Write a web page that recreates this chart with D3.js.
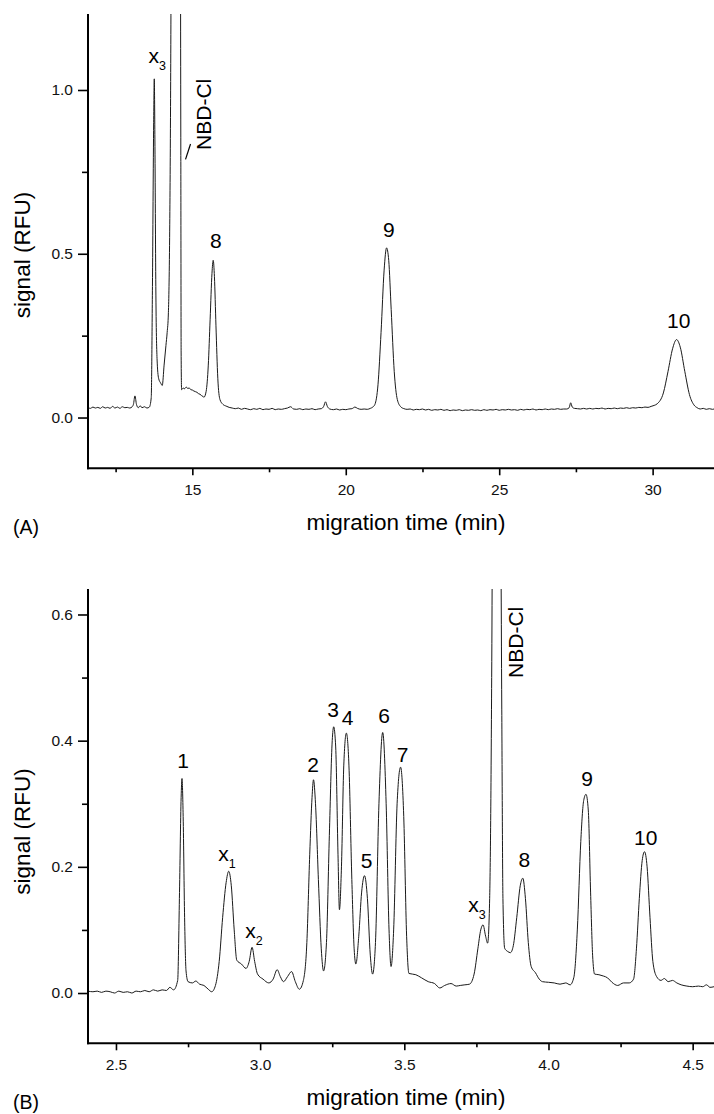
<!DOCTYPE html>
<html>
<head>
<meta charset="utf-8">
<script src="https://cdn.jsdelivr.net/npm/d3@7"></script>
<style>
  body { margin: 0; background: #fff; }
  svg { display: block; font-family: "Liberation Sans", Arial, Helvetica, sans-serif; }
</style>
</head>
<body>
<div id="chart"></div>
<script>
// ---- panel A : electropherogram, long run (min) ----
const timeA = [11.6, 11.68, 11.76, 11.84, 11.92, 12.0, 12.08, 12.16, 12.24, 12.32, 12.4, 12.48, 12.56, 12.64, 12.72, 12.8, 12.88, 12.96, 13.04, 13.08,
  13.13, 13.18, 13.24, 13.3, 13.36, 13.44, 13.52, 13.6, 13.66, 13.7, 13.74, 13.76, 13.78, 13.81, 13.85, 13.9, 13.97, 14.02, 14.08, 14.14,
  14.18, 14.22, 14.26, 14.29, 14.31, 14.4, 14.48, 14.56, 14.61, 14.625, 14.635, 14.65, 14.7, 14.75, 14.8, 14.85, 14.9, 14.95, 15.0, 15.05,
  15.1, 15.15, 15.2, 15.25, 15.3, 15.35, 15.38, 15.45, 15.52, 15.58, 15.64, 15.68, 15.72, 15.77, 15.83, 15.9,
  16.0, 16.1, 16.2, 16.3, 16.4, 16.5, 16.6, 16.7, 16.8, 16.9, 17.0, 17.1, 17.2, 17.3, 17.4, 17.5, 17.6, 17.7, 17.8, 17.9,
  18.0, 18.1, 18.2, 18.3, 18.4, 18.5, 18.6, 18.7, 18.8, 18.9, 19.0, 19.1, 19.2, 19.28, 19.34, 19.4, 19.48, 19.6, 19.7, 19.8,
  19.9, 20.0, 20.1, 20.2, 20.3, 20.38, 20.5, 20.6, 20.7, 20.8, 20.88, 20.95, 21.05, 21.15, 21.25, 21.33, 21.4, 21.48, 21.58, 21.68,
  21.8, 21.9, 22.0, 22.1, 22.2, 22.3, 22.4, 22.5, 22.6, 22.7, 22.8, 22.9, 23.0, 23.1, 23.2, 23.3, 23.4, 23.5, 23.6, 23.7,
  23.8, 23.9, 24.0, 24.1, 24.2, 24.3, 24.4, 24.5, 24.6, 24.7, 24.8, 24.9, 25.0, 25.1, 25.2, 25.3, 25.4, 25.5, 25.6, 25.7,
  25.8, 25.9, 26.0, 26.1, 26.2, 26.3, 26.4, 26.5, 26.6, 26.7, 26.8, 26.9, 27.0, 27.1, 27.2, 27.28, 27.33, 27.38, 27.45, 27.55,
  27.65, 27.75, 27.85, 27.95, 28.05, 28.15, 28.25, 28.35, 28.45, 28.55, 28.65, 28.75, 28.85, 28.95, 29.05, 29.15, 29.25, 29.35, 29.45, 29.55,
  29.65, 29.75, 29.85, 29.95, 30.05, 30.15, 30.35, 30.5, 30.65, 30.78, 30.9, 31.05, 31.2, 31.35, 31.45, 31.55, 31.65, 31.75, 31.85, 31.95,
  32.0]
const signalA = [0.030, 0.028, 0.032, 0.029, 0.031, 0.028, 0.033, 0.029, 0.031, 0.028, 0.034, 0.029, 0.032, 0.028, 0.033, 0.030, 0.031, 0.029, 0.033, 0.040,
  0.066, 0.040, 0.030, 0.036, 0.030, 0.033, 0.029, 0.032, 0.060, 0.40, 0.90, 1.034, 0.85, 0.40, 0.18, 0.12, 0.105, 0.098, 0.16, 0.22,
  0.26, 0.32, 0.55, 0.95, 1.4, 2.8, 3.2, 2.6, 1.6, 0.8, 0.20, 0.085, 0.090, 0.088, 0.093, 0.089, 0.090, 0.085, 0.084, 0.081,
  0.079, 0.077, 0.073, 0.071, 0.067, 0.064, 0.062, 0.080, 0.16, 0.30, 0.44, 0.48, 0.43, 0.28, 0.12, 0.055,
  0.040, 0.035, 0.031, 0.029, 0.027, 0.029, 0.025, 0.028, 0.026, 0.024, 0.027, 0.025, 0.028, 0.024, 0.026, 0.025, 0.028, 0.024, 0.026, 0.025,
  0.027, 0.029, 0.033, 0.026, 0.025, 0.027, 0.024, 0.026, 0.025, 0.027, 0.024, 0.026, 0.027, 0.034, 0.048, 0.034, 0.026, 0.024, 0.026, 0.023,
  0.025, 0.024, 0.026, 0.027, 0.032, 0.028, 0.025, 0.026, 0.025, 0.028, 0.032, 0.040, 0.10, 0.26, 0.45, 0.518, 0.48, 0.33, 0.14, 0.055,
  0.032, 0.027, 0.025, 0.026, 0.023, 0.025, 0.024, 0.026, 0.023, 0.025, 0.022, 0.024, 0.023, 0.025, 0.022, 0.024, 0.021, 0.023, 0.022, 0.024,
  0.021, 0.023, 0.022, 0.024, 0.022, 0.023, 0.021, 0.024, 0.022, 0.024, 0.023, 0.025, 0.022, 0.024, 0.023, 0.025, 0.023, 0.024, 0.022, 0.025,
  0.023, 0.025, 0.024, 0.026, 0.023, 0.025, 0.024, 0.026, 0.024, 0.026, 0.025, 0.027, 0.025, 0.026, 0.026, 0.030, 0.045, 0.032, 0.028, 0.027,
  0.026, 0.028, 0.026, 0.028, 0.026, 0.028, 0.027, 0.029, 0.026, 0.028, 0.027, 0.029, 0.027, 0.029, 0.028, 0.030, 0.028, 0.030, 0.029, 0.031,
  0.030, 0.032, 0.031, 0.034, 0.037, 0.042, 0.075, 0.14, 0.21, 0.238, 0.215, 0.14, 0.070, 0.038, 0.030, 0.026, 0.028, 0.025, 0.027, 0.025,
  0.026]

const peakLabelsA = ["x", "8", "9", "10"]
const peakSubsA = ["3", "", "", ""]
const peakLabelTimeA = [13.86, 15.765, 21.40, 30.85]
const peakLabelSignalA = [1.082, 0.518, 0.551, 0.273]
const nbdLabelA = [15.60, 0.817]
const nbdLeaderA = [[14.778, 0.788], [14.941, 0.835]]

const xTicksA = [15, 20, 25, 30]
const xMinorA = [12.5, 17.5, 22.5, 27.5]
const yTicksA = [0.0, 0.5, 1.0]
const yMinorA = [0.25, 0.75]

// ---- panel B : fast separation ----
const timeB = [2.403, 2.42, 2.435, 2.45, 2.465, 2.48, 2.495, 2.51, 2.525, 2.54, 2.555, 2.57, 2.585, 2.6, 2.615, 2.63, 2.645, 2.66, 2.675, 2.687,
  2.7, 2.714, 2.72, 2.726, 2.729, 2.733, 2.738, 2.743, 2.75,
  2.765, 2.777, 2.79, 2.805, 2.82, 2.832, 2.845, 2.858, 2.87, 2.882, 2.891, 2.9, 2.91, 2.919, 2.935, 2.951, 2.962, 2.972, 2.981, 2.991,
  3.01, 3.03, 3.045, 3.059, 3.07, 3.081, 3.095, 3.109, 3.122, 3.136, 3.15, 3.162, 3.172, 3.18, 3.185, 3.192, 3.202, 3.212, 3.22, 3.23,
  3.24, 3.25, 3.255, 3.262, 3.27, 3.275, 3.282, 3.29, 3.299, 3.308, 3.318, 3.326, 3.332, 3.342, 3.352, 3.362, 3.372, 3.382, 3.39, 3.4,
  3.412, 3.425, 3.437, 3.447, 3.454, 3.463, 3.475, 3.487, 3.498, 3.508, 3.516, 3.54, 3.56, 3.583, 3.605, 3.623, 3.64, 3.662, 3.68, 3.694,
  3.71, 3.726, 3.742, 3.755, 3.765, 3.773, 3.782, 3.789, 3.796, 3.803, 3.808, 3.82, 3.832, 3.838, 3.842, 3.848, 3.858, 3.868, 3.878, 3.89,
  3.902, 3.911, 3.92, 3.93, 3.94, 3.955, 3.968, 3.979, 4.0, 4.02, 4.04, 4.06, 4.075, 4.088, 4.1, 4.112, 4.122, 4.13, 4.138, 4.146,
  4.153, 4.16, 4.175, 4.19, 4.205, 4.22, 4.24, 4.26, 4.28, 4.295, 4.305, 4.315, 4.325, 4.333, 4.342, 4.352, 4.362, 4.375, 4.39, 4.402,
  4.415, 4.43, 4.445, 4.46, 4.48, 4.5, 4.52, 4.535, 4.548, 4.56, 4.574]
const signalB = [0.003, 0.002, 0.003, 0.001, 0.003, 0.002, 0.000, 0.003, 0.001, 0.002, 0.000, 0.003, 0.002, 0.004, 0.002, 0.005, 0.003, 0.005, 0.004, 0.009,
  0.005, 0.02, 0.15, 0.31, 0.340, 0.28, 0.12, 0.035, 0.018,
  0.016, 0.019, 0.014, 0.012, 0.006, 0.002, 0.012, 0.05, 0.12, 0.175, 0.193, 0.17, 0.10, 0.052, 0.046, 0.039, 0.050, 0.0725, 0.050, 0.030,
  0.022, 0.016, 0.022, 0.037, 0.026, 0.018, 0.026, 0.034, 0.018, 0.006, 0.020, 0.08, 0.22, 0.31, 0.338, 0.30, 0.18, 0.07, 0.035, 0.08,
  0.25, 0.40, 0.422, 0.39, 0.22, 0.132, 0.20, 0.36, 0.412, 0.36, 0.18, 0.07, 0.046, 0.09, 0.16, 0.186, 0.15, 0.06, 0.030, 0.08,
  0.30, 0.413, 0.30, 0.10, 0.042, 0.10, 0.30, 0.358, 0.28, 0.09, 0.031, 0.029, 0.024, 0.018, 0.015, 0.008, 0.012, 0.015, 0.011, 0.012,
  0.013, 0.014, 0.030, 0.070, 0.100, 0.108, 0.090, 0.079, 0.15, 0.50, 1.0, 1.5, 1.0, 0.45, 0.15, 0.071, 0.066, 0.064, 0.075, 0.12,
  0.170, 0.182, 0.15, 0.08, 0.042, 0.032, 0.022, 0.018, 0.017, 0.016, 0.014, 0.016, 0.013, 0.025, 0.10, 0.24, 0.305, 0.315, 0.29, 0.16,
  0.060, 0.030, 0.029, 0.027, 0.024, 0.017, 0.012, 0.016, 0.016, 0.022, 0.07, 0.15, 0.210, 0.224, 0.20, 0.12, 0.05, 0.026, 0.020, 0.023,
  0.018, 0.020, 0.016, 0.013, 0.011, 0.010, 0.011, 0.010, 0.013, 0.009, 0.010]

const peakLabelsB = ["1", "x", "x", "2", "3", "4", "5", "6", "7", "x", "8", "9", "10"]
const peakSubsB = ["", "1", "2", "", "", "", "", "", "", "3", "", "", ""]
const peakLabelTimeB = [2.7324, 2.885, 2.9787, 3.1833, 3.2527, 3.3037, 3.3696, 3.4296, 3.4944, 3.7522, 3.9162, 4.1337, 4.3373]
const peakLabelSignalB = [0.3567, 0.2097, 0.0867, 0.3503, 0.4375, 0.4249, 0.1982, 0.428, 0.3667, 0.1289, 0.2002, 0.3286, 0.2346]
const nbdLabelB = [3.9117, 0.4994]

const xTicksB = [2.5, 3.0, 3.5, 4.0, 4.5]
const xMinorB = [2.75, 3.25, 3.75, 4.25]
const yTicksB = [0.0, 0.2, 0.4, 0.6]
const yMinorB = [0.1, 0.3, 0.5]

const svg = d3.select("#chart")
  .append("svg")
    .attr("width", 714)
    .attr("height", 1114)

function drawPanel(p) {
  const width = p.right - p.left,
      height = p.bottom - p.top

  const g = svg.append("g")
    .attr("transform", `translate(${p.left},${p.top})`)

  const x = d3.scaleLinear().domain(p.xDomain).range([0, width])
  const y = d3.scaleLinear().domain(p.yDomain).range([height, 0])

  // clip the trace so the off-scale NBD-Cl peak is cut at the frame
  g.append("clipPath")
    .attr("id", p.id + "-clip")
    .append("rect")
      .attr("width", width)
      .attr("height", height)

  const points = p.times.map((t, i) => [t, p.signal[i]])
  g.append("path")
    .datum(points)
    .attr("clip-path", `url(#${p.id}-clip)`)
    .attr("fill", "none")
    .attr("stroke", "#1a1a1a")
    .attr("stroke-width", 1)
    .attr("stroke-linejoin", "round")
    .attr("d", d3.line()
      .x(d => x(d[0]))
      .y(d => y(d[1]))
      .curve(d3.curveMonotoneX)
    )

  // minor ticks first, then main axes on top
  g.append("g")
    .attr("transform", `translate(0,${height})`)
    .call(d3.axisBottom(x).tickValues(p.xMinor).tickSize(4).tickFormat(""))
  g.append("g")
    .call(d3.axisLeft(y).tickValues(p.yMinor).tickSize(6).tickFormat(""))

  g.append("g")
    .attr("transform", `translate(0,${height})`)
    .call(d3.axisBottom(x).tickValues(p.xTicks).tickSize(7).tickPadding(9).tickFormat(p.xFormat))
  g.append("g")
    .call(d3.axisLeft(y).tickValues(p.yTicks).tickSize(10).tickPadding(5).tickFormat(d3.format(".1f")))

  g.selectAll(".domain").remove()
  g.append("line").attr("x1", 0).attr("x2", 0).attr("y1", 0).attr("y2", height + 1)
    .attr("stroke", "#000").attr("stroke-width", 2)
  g.append("line").attr("x1", -1).attr("x2", width).attr("y1", height).attr("y2", height)
    .attr("stroke", "#000").attr("stroke-width", 2)

  g.selectAll(".tick line").attr("stroke", "#000").attr("stroke-width", 1.6)
  g.selectAll(".tick text")
    .attr("fill", "#111")
    .style("font-size", "15.5px")
    .style("font-family", "'Liberation Sans', Arial, sans-serif")

  // axis titles
  g.append("text")
    .attr("text-anchor", "middle")
    .attr("x", width / 2 + 5)
    .attr("y", height + 62)
    .style("font-size", "22.5px")
    .text("migration time (min)")
  g.append("text")
    .attr("text-anchor", "middle")
    .attr("transform", `translate(${29.5 - p.left},${p.yLabelMid - p.top}) rotate(-90)`)
    .style("font-size", "22.5px")
    .text("signal (RFU)")
  g.append("text")
    .attr("x", 13 - p.left)
    .attr("y", height + 66)
    .style("font-size", "19.5px")
    .text(p.tag)

  // peak labels
  p.labels.forEach((lab, i) => {
    const t = g.append("text")
      .attr("text-anchor", "middle")
      .attr("x", x(p.labelTime[i]))
      .attr("y", y(p.labelSignal[i]))
      .style("font-size", "21px")
    t.append("tspan").text(lab)
    if (p.subs[i]) {
      t.append("tspan")
        .attr("dy", 7)
        .style("font-size", "12.5px")
        .text(p.subs[i])
    }
  })

  g.append("text")
    .attr("transform", `translate(${x(p.nbd[0])},${y(p.nbd[1])}) rotate(-90)`)
    .style("font-size", "21px")
    .text("NBD-Cl")

  if (p.leader) {
    g.append("line")
      .attr("x1", x(p.leader[0][0])).attr("y1", y(p.leader[0][1]))
      .attr("x2", x(p.leader[1][0])).attr("y2", y(p.leader[1][1]))
      .attr("stroke", "#000")
      .attr("stroke-width", 1.2)
  }
}

drawPanel({
  id: "a", tag: "(A)",
  left: 88, top: 14, right: 714, bottom: 468.3,
  xDomain: [11.6, 32.0], yDomain: [-0.155, 1.232],
  times: timeA, signal: signalA,
  xTicks: xTicksA, xMinor: xMinorA, yTicks: yTicksA, yMinor: yMinorA,
  xFormat: d3.format("d"),
  yLabelMid: 255,
  labels: peakLabelsA, subs: peakSubsA, labelTime: peakLabelTimeA, labelSignal: peakLabelSignalA,
  nbd: nbdLabelA, leader: nbdLeaderA
})

drawPanel({
  id: "b", tag: "(B)",
  left: 88, top: 589, right: 714, bottom: 1043.3,
  xDomain: [2.403, 4.574], yDomain: [-0.0797, 0.6404],
  times: timeB, signal: signalB,
  xTicks: xTicksB, xMinor: xMinorB, yTicks: yTicksB, yMinor: yMinorB,
  xFormat: d3.format(".1f"),
  yLabelMid: 831.5,
  labels: peakLabelsB, subs: peakSubsB, labelTime: peakLabelTimeB, labelSignal: peakLabelSignalB,
  nbd: nbdLabelB, leader: null
})
</script>
</body>
</html>
